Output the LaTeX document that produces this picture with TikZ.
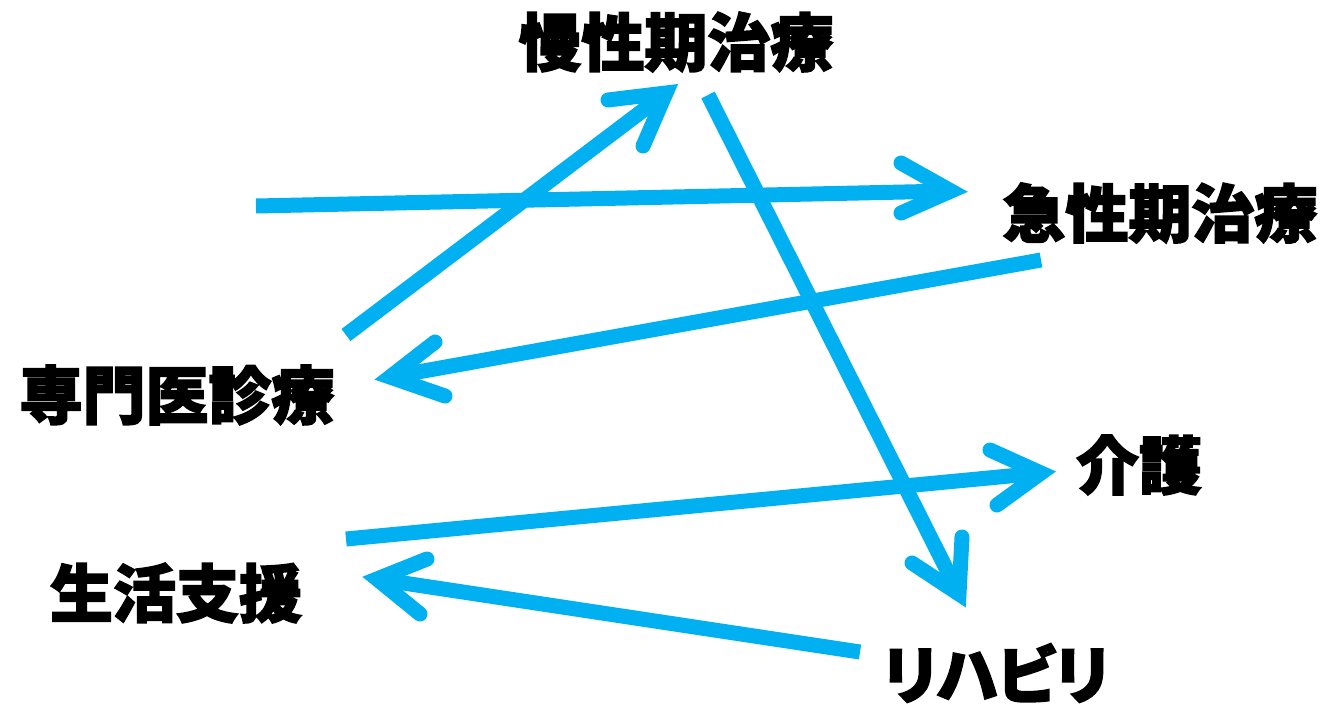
\documentclass[tikz,border=0pt]{standalone}
\usepackage{fontspec}
\newfontfamily\cjk[BoldFeatures={FakeBold=2.5}]{Noto Sans CJK JP}
\newfontfamily\cjkp[BoldFeatures={FakeBold=2.5},RawFeature=+palt]{Noto Sans CJK JP}
\definecolor{arrowblue}{HTML}{00B0F0}
\tikzset{
  lbl/.style={inner sep=0pt, font=\cjk\bfseries\fontsize{63}{63}\selectfont, text=black},
  kanalbl/.style={inner sep=0pt, font=\cjkp\bfseries\fontsize{63}{63}\selectfont, text=black},
  shaft/.style={draw=arrowblue, line width=15pt, line cap=butt},
  head/.style={draw=arrowblue, line width=15pt, line cap=round, line join=miter, miter limit=10}
}
\begin{document}
\begin{tikzpicture}[x=1pt,y=-1pt]
\useasboundingbox (0,0) rectangle (1324,704);
% labels
\node[lbl] (mansei) at (676,42) {慢性期治療};
\node[lbl] (kyusei) at (1160,213) {急性期治療};
\node[lbl] (senmon) at (177,395) {専門医診療};
\node[lbl] (kaigo) at (1139,465) {介護};
\node[lbl] (seikatsu) at (176,593) {生活支援};
\node[kanalbl] (riha) at (996,673) {リハビリ};
% arrow coordinates
\coordinate (s1) at (346,335); \coordinate (v1) at (666,93);
\coordinate (a1) at (608,100); \coordinate (b1) at (643,146);
\coordinate (s2) at (256,206); \coordinate (v2) at (951,191);
\coordinate (a2) at (901,163); \coordinate (b2) at (901,213);
\coordinate (s3) at (708,95); \coordinate (v3) at (959,594);
\coordinate (a3) at (962,537); \coordinate (b3) at (912,563);
\coordinate (s4) at (1041,260); \coordinate (v4) at (390,377);
\coordinate (a4) at (435,342); \coordinate (b4) at (445,396);
\coordinate (s5) at (346,539); \coordinate (v5) at (1041,473);
\coordinate (a5) at (990,450); \coordinate (b5) at (997,505);
\coordinate (s6) at (860,652); \coordinate (v6) at (377,579);
\coordinate (a6) at (427,559); \coordinate (b6) at (420,614);
% arrows
\foreach \i in {1,...,6}{
  \draw[shaft] (s\i) -- (v\i);
  \draw[head] (a\i) -- (v\i) -- (b\i);
}
\end{tikzpicture}
\end{document}
